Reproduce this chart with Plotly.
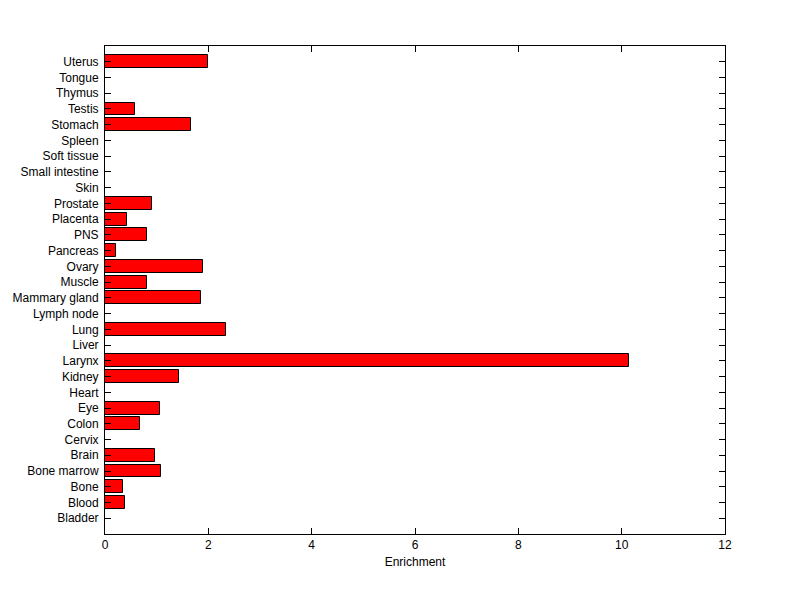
import plotly.graph_objects as go

# tissues, bottom to top
tissues = [
    "Bladder", "Blood", "Bone", "Bone marrow", "Brain", "Cervix", "Colon", "Eye",
    "Heart", "Kidney", "Larynx", "Liver", "Lung", "Lymph node", "Mammary gland",
    "Muscle", "Ovary", "Pancreas", "PNS", "Placenta", "Prostate", "Skin",
    "Small intestine", "Soft tissue", "Spleen", "Stomach", "Testis", "Thymus",
    "Tongue", "Uterus",
]
enrichment = [
    0, 0.39, 0.35, 1.09, 0.97, 0, 0.67, 1.06,
    0, 1.44, 10.14, 0, 2.35, 0, 1.85,
    0.81, 1.89, 0.21, 0.81, 0.42, 0.90, 0,
    0, 0, 0, 1.66, 0.59, 0,
    0, 1.99,
]
x_ticks = [0, 2, 4, 6, 8, 10, 12]

fig = go.Figure()
fig.add_trace(go.Bar(
    x=enrichment,
    y=list(range(len(tissues))),
    orientation="h",
    width=0.82,
    marker=dict(color="#ff0000", line=dict(color="black", width=1)),
))

axis_common = dict(
    showline=True, linecolor="black", linewidth=1, mirror="ticks",
    ticks="inside", ticklen=6, tickcolor="black", tickwidth=1,
    showgrid=False, zeroline=False, automargin=False,
    tickfont=dict(family="Liberation Sans, Arial, sans-serif", size=12, color="black"),
)

fig.update_layout(
    width=800, height=599,
    # page body adds ~7px offset, so margins are shifted to compensate
    margin=dict(l=97, r=83, t=38, b=73),
    paper_bgcolor="white",
    plot_bgcolor="white",
    showlegend=False,
    bargap=0,
    font=dict(family="Liberation Sans, Arial, sans-serif", size=12, color="black"),
    xaxis=dict(
        range=[0, 12], tickvals=x_ticks, ticktext=[str(t) for t in x_ticks],
        title=dict(text="Enrichment", standoff=6,
                   font=dict(family="Liberation Sans, Arial, sans-serif", size=12)),
        **axis_common,
    ),
    yaxis=dict(
        range=[-1, 30], tickvals=list(range(len(tissues))), ticktext=tissues,
        ticklabelstandoff=3,
        **axis_common,
    ),
)

fig.write_html("out.html")
